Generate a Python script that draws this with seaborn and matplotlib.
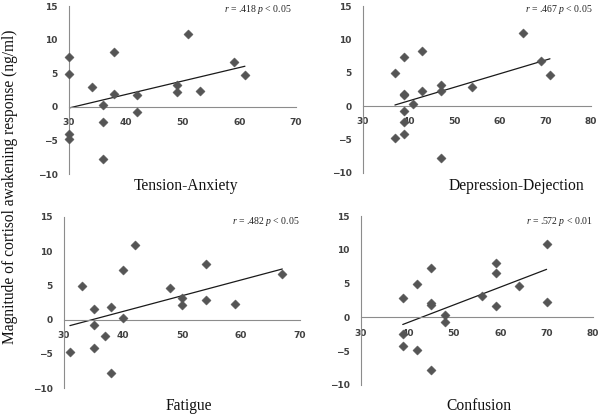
import matplotlib
matplotlib.use("Agg")
import matplotlib.pyplot as plt
import seaborn as sns
import pandas as pd

# cortisol awakening response values (ng/ml), one per participant
tension_x = [30, 30, 30, 30, 34, 36, 36, 36, 38, 38, 42, 42, 49, 49, 51, 53, 59, 61]
tension_y = [7.4, 4.9, -4.1, -4.8, 2.9, 0.3, -2.3, -7.8, 8.2, 1.9, 1.7, -0.7, 3.2, 2.2, 10.9, 2.4, 6.7, 4.7]

depress_x = [37, 37, 39, 39, 39, 39, 39, 39, 41, 43, 43, 47, 47, 47, 54, 65, 69, 71]
depress_y = [4.9, -4.8, 7.4, 1.9, 1.7, -0.7, -2.3, -4.1, 0.3, 8.2, 2.3, 3.2, 2.3, -7.8, 2.8, 10.9, 6.7, 4.7]

fatigue_x = [31, 33, 35, 35, 35, 37, 38, 38, 40, 40, 42, 48, 50, 50, 54, 54, 59, 67]
fatigue_y = [-4.8, 4.9, 1.6, -0.8, -4.2, -2.4, 1.9, -7.8, 7.3, 0.2, 10.9, 4.6, 3.2, 2.2, 8.1, 2.8, 2.3, 6.6]

confus_x = [39, 39, 39, 42, 42, 45, 45, 45, 45, 48, 48, 56, 59, 59, 59, 64, 70, 70]
confus_y = [2.8, -2.4, -4.2, 4.9, -4.8, 7.3, 2.2, 1.9, -7.8, 0.3, -0.7, 3.2, 8.1, 6.6, 1.7, 4.6, 10.9, 2.3]

titles = ["Tension-Anxiety", "Depression-Dejection", "Fatigue", "Confusion"]
stats = ["$\\it{r}$ = .418 $\\it{p}$ < 0.05", "$\\it{r}$ = .467 $\\it{p}$ < 0.05",
         "$\\it{r}$ = .482 $\\it{p}$ < 0.05", "$\\it{r}$ = .572 $\\it{p}$ < 0.01"]
xmax = [70, 80, 70, 80]
y_ticks = [-10, -5, 0, 5, 10, 15]
ylabel = "Magnitude of cortisol awakening response (ng/ml)"

sns.set_style("white")
plt.rcParams["mathtext.fontset"] = "custom"
plt.rcParams["mathtext.rm"] = "Liberation Serif"
plt.rcParams["mathtext.it"] = "Liberation Serif:italic"

W, H = 600, 418
fig = plt.figure(figsize=(6, 4.18), dpi=100)

# pixel boxes: left, right, top, bottom
boxes = [(69, 296, 6, 174), (363, 591, 6, 173), (64, 300, 217, 388), (361, 593, 216, 385)]
title_pos = [(186, 186), (516, 186), (189, 406), (479, 406)]
stat_pos = [(292, 10), (593, 10), (300, 221), (593, 221)]

datasets = [(tension_x, tension_y), (depress_x, depress_y), (fatigue_x, fatigue_y), (confus_x, confus_y)]
grey = "#8c8c8c"
for i, ((xs, ys), (l, r, t, b)) in enumerate(zip(datasets, boxes)):
    ax = fig.add_axes([l / W, 1 - b / H, (r - l) / W, (b - t) / H])
    df = pd.DataFrame({"x": xs, "y": ys})
    sns.scatterplot(data=df, x="x", y="y", ax=ax, marker="D", s=22, color="#555555",
                    edgecolor="#555555", linewidth=0.3, zorder=3, clip_on=False)
    sns.regplot(data=df, x="x", y="y", ax=ax, scatter=False, ci=None,
                line_kws=dict(color="#1a1a1a", lw=0.9), truncate=True)
    ax.set_xlim(30, xmax[i])
    ax.set_ylim(-10, 15)
    ax.set_xticks(list(range(30, xmax[i] + 1, 10)))
    ax.set_yticks(y_ticks)
    ax.set_xlabel("")
    ax.set_ylabel("")
    for s in ["top", "right"]:
        ax.spines[s].set_visible(False)
    ax.spines["bottom"].set_position(("data", 0))
    ax.spines["left"].set_color(grey)
    ax.spines["bottom"].set_color(grey)
    ax.spines["left"].set_linewidth(0.8)
    ax.spines["bottom"].set_linewidth(0.8)
    ax.tick_params(axis="y", direction="out", length=3, width=0.8, color=grey, pad=5)
    ax.tick_params(axis="x", direction="out", length=3, width=0.8, color=grey, pad=5)
    for lab in ax.get_xticklabels() + ax.get_yticklabels():
        lab.set_fontsize(6.5)
        lab.set_fontweight("bold")
        lab.set_color("#404040")
    fig.text(title_pos[i][0] / W, 1 - title_pos[i][1] / H, titles[i], family="Liberation Serif",
             fontsize=11.2, ha="center", va="center", color="#111111")
    fig.text(stat_pos[i][0] / W, 1 - stat_pos[i][1] / H, stats[i], family="Liberation Serif",
             fontsize=7, ha="right", va="center", color="#222222")

fig.text(10 / W, 1 - 187 / H, ylabel, rotation=90, family="Liberation Serif", fontsize=11.2,
         ha="center", va="center", color="#111111")

fig.savefig("out.png", dpi=100)
